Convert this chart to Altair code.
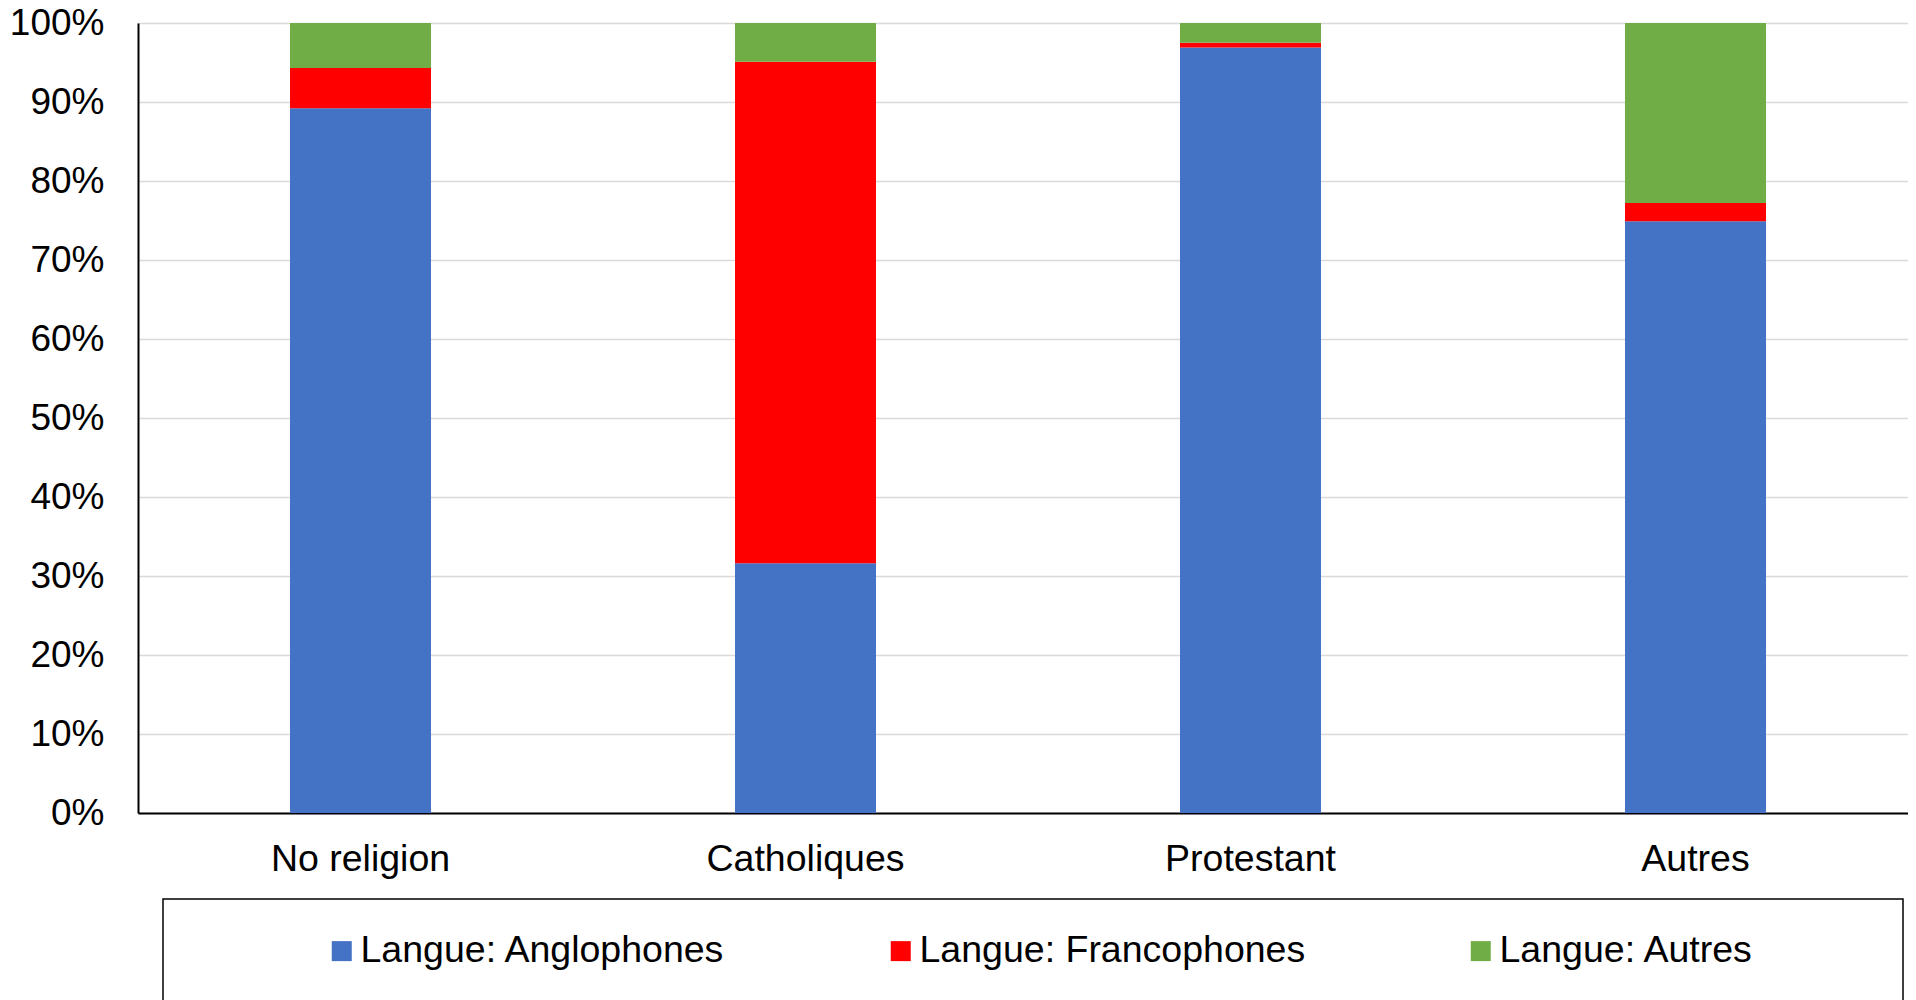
import altair as alt
import pandas as pd

categories = ["No religion", "Catholiques", "Protestant", "Autres"]
series = ["Langue: Anglophones", "Langue: Francophones", "Langue: Autres"]
anglophones = [89.2, 31.6, 96.9, 74.9]
francophones = [5.1, 63.5, 0.6, 2.3]
autres = [5.7, 4.9, 2.5, 22.8]
colors = ["#4472C4", "#FF0000", "#70AD47"]

rows = []
for i, cat in enumerate(categories):
    for j, (name, vals) in enumerate(zip(series, [anglophones, francophones, autres])):
        rows.append({"cat": cat, "serie": name, "value": vals[i], "ord": j})
df = pd.DataFrame(rows)

FONT = "Liberation Sans"

bars = alt.Chart(df).mark_bar(size=141).encode(
    x=alt.X("cat:N", sort=categories, title=None,
            scale=alt.Scale(range=[0, 1780], paddingInner=0.683, paddingOuter=0.3415),
            axis=alt.Axis(labelAngle=0, labelFontSize=37.5, labelFont=FONT, labelColor="black",
                          domainColor="black", domainWidth=2, ticks=False, labelPadding=27,
                          labelBaseline="top", labelLimit=1000)),
    y=alt.Y("value:Q", stack="normalize", title=None,
            scale=alt.Scale(domain=[0, 1]),
            axis=alt.Axis(format=".0%", values=[i / 10 for i in range(11)],
                          labelFontSize=37, labelFont=FONT, labelColor="black",
                          domainColor="black", domainWidth=2, ticks=False, labelPadding=34,
                          gridColor="#d9d9d9", gridWidth=1.5)),
    color=alt.Color("serie:N", sort=series,
                    scale=alt.Scale(domain=series, range=colors),
                    legend=alt.Legend(title=None, orient="none", direction="horizontal",
                                      legendX=185, legendY=909, padding=0,
                                      symbolType="square", symbolSize=400, symbolStrokeWidth=0,
                                      symbolOpacity=1,
                                      labelFontSize=37.5, labelFont=FONT, labelColor="black",
                                      labelOffset=0, labelLimit=1000, columnPadding=156)),
    order=alt.Order("ord:Q", sort="ascending"),
)

frame = alt.Chart(alt.Data(values=[{"a": 1}])).mark_rect(
    fill=None, stroke="black", strokeWidth=1.5
).encode(
    x=alt.value(25), x2=alt.value(1765), y=alt.value(876), y2=alt.value(1100)
)

chart = alt.layer(bars, frame).properties(
    width=1770, height=790,
    autosize=alt.AutoSizeParams(type="none"),
    padding={"left": 130, "top": 15, "right": 0, "bottom": 200},
).configure_view(stroke="black", strokeWidth=2).configure(background="white")

chart.save("out.html", embed_options={"renderer": "svg", "actions": False})
